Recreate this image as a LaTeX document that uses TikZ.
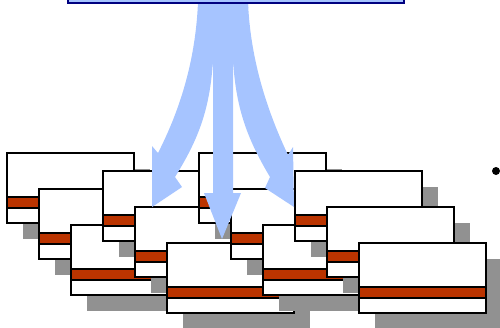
\documentclass[tikz,border=0pt]{standalone}
\usepackage{tikz}
\definecolor{arrowblue}{RGB}{166,196,255}
\definecolor{boxnavy}{RGB}{0,0,128}
\definecolor{cardred}{RGB}{187,52,0}
\definecolor{shadowgray}{RGB}{145,145,145}
\tikzset{
  cardpic/.pic={
    \fill[shadowgray] (16,16) rectangle (143,86);
    \draw[cardline,fill=white] (0,0) rectangle (127,70);
    \draw[cardline,fill=cardred] (0,44) rectangle (127,55);
  },
  cardline/.style={line width=2pt,draw=black,line join=miter},
  arrowfill/.style={fill=arrowblue,draw=none},
}
\begin{document}
\begin{tikzpicture}[x=1pt,y=-1pt]
\useasboundingbox (0,0) rectangle (500,327);
\clip (0,0) rectangle (500,327);
% card groups
\foreach \gx/\gy in {7/153,103/171,199/153,295/171}{
  \foreach \k in {0,1,2}{
    \pic at ({\gx+32*\k},{\gy+36*\k}) {cardpic};
  }
}
% arrows
\fill[arrowfill] (198,2) -- (248,2) -- (248,8) -- (233,67) -- (213,67) -- (198,8) -- cycle;
% middle arrow
\fill[arrowfill] (213,2) -- (233,2) -- (233,193) -- (241,193) -- (222,239) -- (204,193) -- (213,193) -- cycle;
% left arrow
\fill[arrowfill] (198,2) .. controls (196,50) and (185,100) .. (158,153)
  -- (152,146) -- (152,207) -- (182,187) -- (175,177)
  .. controls (198,140) and (210,110) .. (213,60) -- (213,2) -- cycle;
% right arrow
\fill[arrowfill] (248,2) .. controls (250,50) and (262,100) .. (288,155)
  -- (293,147) -- (294,207) -- (265,188) -- (270,177)
  .. controls (248,140) and (236,110) .. (233,60) -- (233,2) -- cycle;
% top box
\draw[line width=2pt,draw=boxnavy,fill=arrowblue] (68,-6) rectangle (404,3);
% bullet
\fill[black] (496,171) circle (4);
\end{tikzpicture}
\end{document}
